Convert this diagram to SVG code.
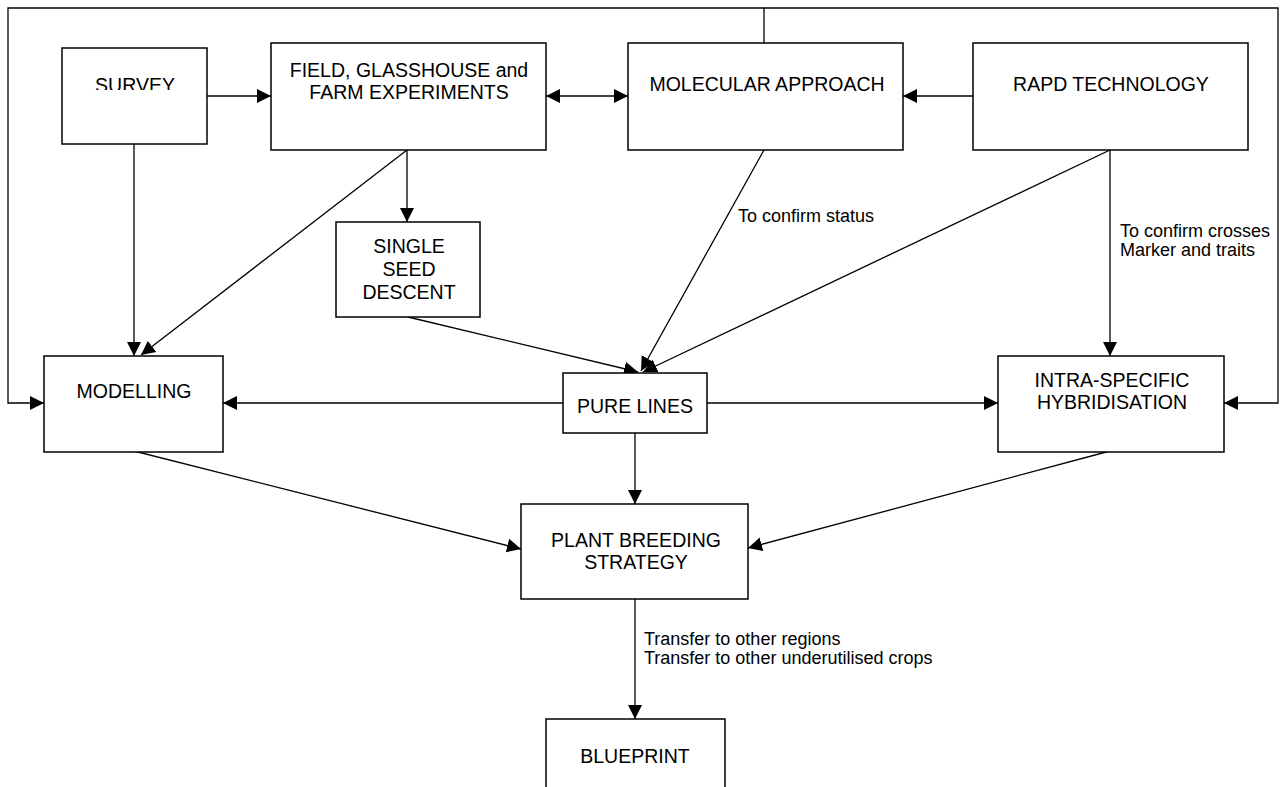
<svg xmlns="http://www.w3.org/2000/svg" width="1281" height="787" viewBox="0 0 1281 787">
<style>
.box{fill:#fff;stroke:#000;stroke-width:1.5}
.t{font-family:"Liberation Sans",Arial,sans-serif;font-size:19.5px;text-anchor:middle;fill:#000}
.l{font-family:"Liberation Sans",Arial,sans-serif;font-size:18px;fill:#000}
.c{fill:none;stroke:#000;stroke-width:1.3}
</style>
<defs>
<marker id="ah" markerUnits="userSpaceOnUse" markerWidth="15" markerHeight="15" refX="14" refY="7" orient="auto-start-reverse" viewBox="0 0 15 14">
<path d="M0,0 L14,7 L0,14 z" fill="#000"/>
</marker>
<clipPath id="clipSurvey"><rect x="50" y="48" width="157" height="42"/></clipPath>
</defs>
<rect width="1281" height="787" fill="#fff"/>
<g id="connectors">
<path class="c" d="M764,43 V8 H8 V403 H44" marker-end="url(#ah)"/>
<path class="c" d="M764,8 H1278 V403 H1224" marker-end="url(#ah)"/>
<line class="c" x1="207" y1="96" x2="271" y2="96" marker-end="url(#ah)"/>
<line class="c" x1="546" y1="96" x2="628" y2="96" marker-start="url(#ah)" marker-end="url(#ah)"/>
<line class="c" x1="973" y1="96" x2="903" y2="96" marker-end="url(#ah)"/>
<line class="c" x1="134" y1="144" x2="134" y2="356" marker-end="url(#ah)"/>
<line class="c" x1="407" y1="150" x2="141" y2="355" marker-end="url(#ah)"/>
<line class="c" x1="407" y1="150" x2="407" y2="222" marker-end="url(#ah)"/>
<line class="c" x1="408" y1="317" x2="638" y2="372" marker-end="url(#ah)"/>
<line class="c" x1="764" y1="150" x2="641" y2="371" marker-end="url(#ah)"/>
<line class="c" x1="1110" y1="150" x2="643" y2="372" marker-end="url(#ah)"/>
<line class="c" x1="1110" y1="150" x2="1110" y2="356" marker-end="url(#ah)"/>
<line class="c" x1="563" y1="403" x2="223" y2="403" marker-end="url(#ah)"/>
<line class="c" x1="707" y1="403" x2="998" y2="403" marker-end="url(#ah)"/>
<line class="c" x1="635" y1="433" x2="635" y2="504" marker-end="url(#ah)"/>
<line class="c" x1="134" y1="451" x2="521" y2="549" marker-end="url(#ah)"/>
<line class="c" x1="1110" y1="451" x2="748" y2="548" marker-end="url(#ah)"/>
<line class="c" x1="635" y1="599" x2="635" y2="719" marker-end="url(#ah)"/>
<text class="l" x="738" y="222">To confirm status</text>
<text class="l" x="1120" y="237">To confirm crosses</text>
<text class="l" x="1120" y="256">Marker and traits</text>
<text class="l" x="644" y="645">Transfer to other regions</text>
<text class="l" x="644" y="664">Transfer to other underutilised crops</text>
</g>
<g id="survey">
<rect class="box" x="62" y="48" width="145" height="96"/>
<text class="t" x="135" y="92" clip-path="url(#clipSurvey)">SURVEY</text>
</g>
<g id="field">
<rect class="box" x="271" y="43" width="275" height="107"/>
<text class="t" x="409" y="77">FIELD, GLASSHOUSE and</text>
<text class="t" x="409" y="99">FARM EXPERIMENTS</text>
</g>
<g id="molecular">
<rect class="box" x="628" y="43" width="275" height="107"/>
<text class="t" x="767" y="91">MOLECULAR APPROACH</text>
</g>
<g id="rapd">
<rect class="box" x="973" y="43" width="275" height="107"/>
<text class="t" x="1111" y="91">RAPD TECHNOLOGY</text>
</g>
<g id="single">
<rect class="box" x="336" y="222" width="144" height="95"/>
<text class="t" x="409" y="253">SINGLE</text>
<text class="t" x="409" y="276">SEED</text>
<text class="t" x="409" y="299">DESCENT</text>
</g>
<g id="modelling">
<rect class="box" x="44" y="356" width="179" height="96"/>
<text class="t" x="134" y="398">MODELLING</text>
</g>
<g id="pure">
<rect class="box" x="563" y="373" width="144" height="60"/>
<text class="t" x="635" y="413">PURE LINES</text>
</g>
<g id="intra">
<rect class="box" x="998" y="356" width="226" height="96"/>
<text class="t" x="1112" y="387">INTRA-SPECIFIC</text>
<text class="t" x="1112" y="409">HYBRIDISATION</text>
</g>
<g id="pbs">
<rect class="box" x="521" y="504" width="227" height="95"/>
<text class="t" x="636" y="547">PLANT BREEDING</text>
<text class="t" x="636" y="569">STRATEGY</text>
</g>
<g id="blueprint">
<rect class="box" x="546" y="719" width="179" height="90"/>
<text class="t" x="635" y="763">BLUEPRINT</text>
</g>
</svg>
